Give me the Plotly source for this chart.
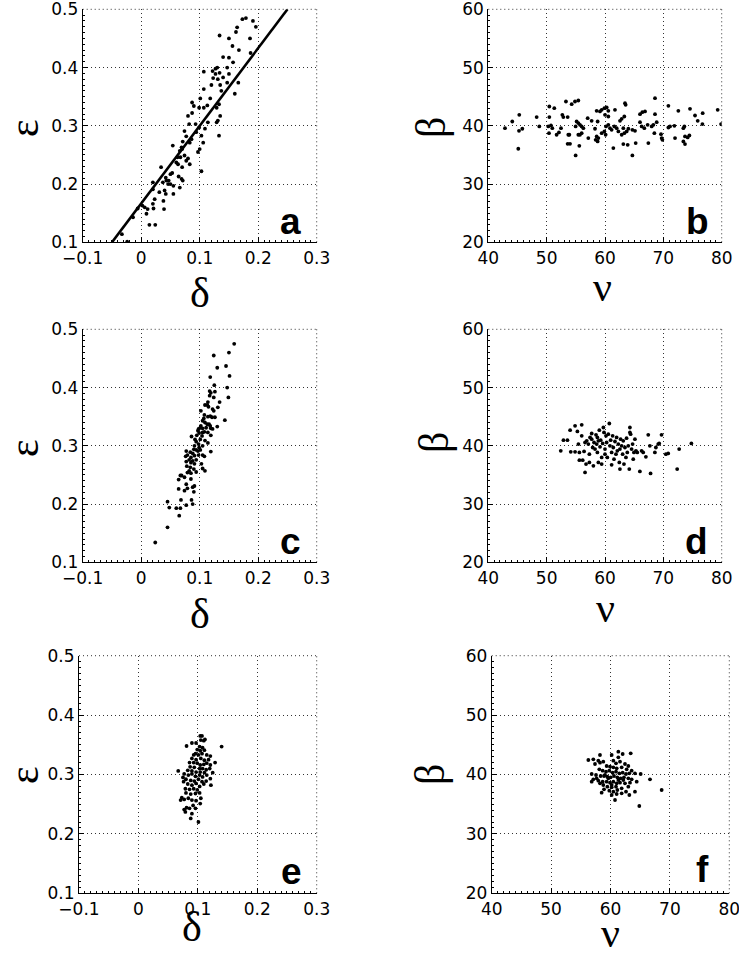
import plotly.graph_objects as go

# ---------------- data ----------------
# panel a
delta_a = [0.173,0.179,0.191,0.196,0.164,0.162,0.134,0.150,0.186,0.156,0.167,0.187,0.140,0.150,0.157,
           0.147,0.130,0.127,0.122,0.107,0.134,0.127,0.140,0.131,0.123,0.120,0.135,0.147,0.150,0.166,
           0.107,0.118,0.137,0.160,0.101,0.099,0.107,0.113,0.133,0.129,0.135,0.129,0.131,0.114,0.087,
           0.090,0.080,0.087,0.082,0.093,0.099,0.109,0.103,0.133,0.074,0.077,0.094,0.086,0.083,0.071,
           0.054,0.069,0.066,0.070,0.106,0.097,0.100,0.074,0.062,0.067,0.080,0.077,0.083,0.070,0.063,
           0.060,0.103,0.034,0.050,0.053,0.042,0.043,0.047,0.046,0.050,0.064,0.069,0.071,0.066,0.055,
           0.037,0.020,0.020,0.031,0.040,0.042,0.055,0.023,0.006,0.011,0.020,0.021,0.038,0.039,0.009,
           0.014,0.024,-0.014,-0.033,-0.024,0.002,-0.006]
eps_a = [0.483,0.485,0.480,0.470,0.469,0.461,0.455,0.450,0.450,0.437,0.430,0.425,0.418,0.417,0.409,
         0.400,0.400,0.398,0.394,0.393,0.391,0.389,0.383,0.380,0.382,0.370,0.370,0.374,0.389,0.374,
         0.363,0.347,0.360,0.355,0.347,0.331,0.331,0.335,0.337,0.331,0.317,0.306,0.309,0.306,0.340,
         0.334,0.317,0.322,0.303,0.303,0.297,0.295,0.283,0.283,0.291,0.282,0.289,0.277,0.271,0.273,
         0.266,0.263,0.257,0.260,0.271,0.255,0.260,0.249,0.246,0.246,0.244,0.240,0.234,0.229,0.234,
         0.237,0.222,0.229,0.217,0.219,0.211,0.206,0.206,0.200,0.200,0.213,0.209,0.206,0.194,0.197,
         0.203,0.203,0.191,0.186,0.189,0.183,0.183,0.174,0.160,0.157,0.166,0.158,0.171,0.157,0.149,
         0.130,0.130,0.143,0.114,0.101,0.163,0.158]
fit_delta = [-0.05, 0.25]
fit_eps = [0.10, 0.50]

# panel b
nu_b = [42.86,44.11,45.31,45.26,45.83,45.14,48.29,48.74,50.46,51.31,50.46,50.29,50.74,50.97,50.40,
        51.71,52.11,52.46,52.69,52.86,53.60,53.31,54.29,54.86,55.43,53.71,53.89,53.60,54.00,54.97,
        54.97,55.14,55.43,55.71,56.00,56.29,55.43,55.71,56.00,55.60,57.03,57.14,57.71,58.29,58.57,
        58.74,59.14,59.43,59.89,60.29,60.57,60.00,60.57,60.17,60.57,60.86,61.14,59.89,59.43,58.57,
        58.40,58.74,58.86,60.11,61.43,61.71,61.60,62.00,62.29,62.57,62.86,63.31,63.43,63.54,63.14,
        63.31,62.86,63.71,64.00,63.14,63.89,64.69,65.14,64.69,65.26,66.00,66.40,66.86,66.00,66.29,
        66.74,67.31,68.00,68.29,68.57,68.57,68.86,68.46,69.60,69.71,69.83,67.43,70.86,70.86,71.14,
        72.00,71.89,72.57,73.60,73.43,73.71,73.43,73.71,74.17,74.46,74.57,75.43,75.89,76.69,76.74,
        79.31,79.89]
beta_b = [39.60,40.74,41.89,39.14,39.49,36.06,41.49,39.89,43.31,43.03,41.49,39.89,40.06,39.60,38.74,
          38.46,38.86,39.60,41.89,41.49,41.49,44.17,43.71,44.17,44.34,38.46,38.46,36.91,36.91,34.91,
          39.89,40.74,40.46,40.17,39.89,39.60,38.46,38.46,38.74,36.57,41.31,37.89,40.86,39.49,42.57,
          40.74,42.46,42.74,43.03,43.14,42.57,41.89,41.60,39.89,40.17,39.60,39.31,39.03,38.74,38.17,
          37.60,37.31,37.89,38.46,36.17,42.74,39.89,39.60,39.03,40.86,41.20,41.60,43.89,43.60,39.60,
          38.74,38.46,39.03,39.49,36.86,36.74,39.31,39.14,34.91,37.03,42.00,42.34,42.46,40.63,39.89,
          39.60,40.17,39.89,40.17,44.74,42.00,40.63,38.74,38.57,37.89,37.60,37.03,43.43,39.71,39.89,
          37.89,40.00,42.57,39.89,39.60,38.17,37.31,36.86,38.00,38.34,42.91,41.77,40.86,40.29,42.17,
          42.74,40.29]

# panel c
delta_c = [0.159,0.150,0.124,0.145,0.130,0.151,0.118,0.125,0.147,0.149,0.117,0.119,0.126,0.117,0.124,
           0.134,0.114,0.109,0.113,0.115,0.122,0.131,0.102,0.124,0.108,0.114,0.118,0.107,0.121,0.126,
           0.143,0.105,0.109,0.113,0.118,0.116,0.102,0.101,0.105,0.098,0.111,0.119,0.122,0.130,0.108,
           0.097,0.099,0.105,0.114,0.095,0.104,0.119,0.086,0.092,0.101,0.109,0.114,0.094,0.098,0.091,
           0.099,0.105,0.090,0.094,0.097,0.101,0.119,0.077,0.084,0.088,0.079,0.076,0.085,0.091,0.098,
           0.105,0.108,0.082,0.088,0.094,0.077,0.085,0.091,0.103,0.078,0.084,0.082,0.090,0.094,0.105,
           0.109,0.079,0.085,0.069,0.074,0.064,0.067,0.085,0.091,0.077,0.088,0.079,0.064,0.074,0.090,
           0.068,0.086,0.045,0.048,0.060,0.067,0.077,0.088,0.065,0.045,0.024]
eps_c = [0.475,0.460,0.455,0.437,0.434,0.420,0.418,0.404,0.400,0.383,0.394,0.391,0.393,0.386,0.383,
         0.375,0.375,0.370,0.370,0.367,0.363,0.366,0.360,0.360,0.353,0.350,0.351,0.347,0.349,0.349,
         0.344,0.343,0.340,0.337,0.334,0.337,0.334,0.331,0.330,0.329,0.331,0.330,0.329,0.333,0.324,
         0.326,0.322,0.323,0.323,0.318,0.317,0.318,0.316,0.311,0.311,0.309,0.305,0.307,0.303,0.300,
         0.297,0.300,0.294,0.293,0.291,0.293,0.290,0.291,0.289,0.287,0.284,0.282,0.280,0.283,0.284,
         0.284,0.282,0.276,0.274,0.276,0.273,0.271,0.269,0.269,0.265,0.263,0.257,0.260,0.255,0.261,
         0.257,0.254,0.253,0.249,0.246,0.242,0.249,0.243,0.231,0.234,0.229,0.227,0.226,0.223,0.221,
         0.207,0.207,0.204,0.194,0.193,0.193,0.198,0.200,0.180,0.160,0.134]

# panel d
nu_d = [52.42,52.88,53.56,54.02,54.13,54.87,54.87,55.27,55.44,55.61,56.01,56.01,55.61,56.18,56.41,
        56.58,56.87,56.75,56.58,57.15,57.32,57.32,57.44,57.72,57.72,57.89,58.01,58.12,58.29,58.46,
        58.58,58.69,58.69,58.86,59.03,58.86,59.15,59.26,59.43,59.43,59.60,59.72,59.83,60.00,60.17,
        60.00,60.28,60.40,60.57,60.74,60.85,60.97,61.14,61.14,61.31,61.42,61.54,61.71,61.88,61.99,
        62.11,62.28,62.45,62.56,62.56,62.68,62.85,63.02,63.13,63.25,63.42,63.59,63.70,63.82,63.99,
        64.16,64.27,64.27,64.39,64.56,64.73,64.84,64.96,65.13,65.30,65.53,65.98,66.27,66.55,67.01,
        67.41,67.69,67.81,68.55,68.72,69.12,69.29,69.69,70.43,70.83,72.37,72.71,74.80]
beta_d = [39.14,40.97,40.97,42.69,38.97,38.97,43.43,42.46,40.29,38.86,43.60,41.71,37.54,37.54,39.03,
          40.57,40.86,36.86,35.43,40.29,38.57,37.14,41.43,42.11,41.14,39.71,36.57,40.57,39.43,41.89,
          40.29,41.43,38.86,40.86,42.69,37.14,39.83,40.97,38.00,36.86,40.40,43.14,42.29,39.43,41.71,
          38.57,40.57,38.00,42.00,43.83,40.00,40.97,38.86,36.74,41.71,39.71,37.71,40.74,38.57,41.43,
          39.14,40.29,37.14,36.00,39.43,41.14,40.00,38.57,40.86,36.86,39.71,38.00,41.31,38.86,40.00,
          36.00,43.14,42.29,42.00,39.43,40.29,37.71,38.86,41.14,39.14,38.86,35.60,39.14,38.86,38.11,
          41.89,40.00,35.26,38.86,39.71,40.29,40.40,41.89,38.57,38.69,36.00,39.43,40.40]

# panel e
delta_e = [0.104,0.107,0.105,0.110,0.112,0.097,0.090,0.081,0.140,0.103,0.108,0.099,0.104,0.111,0.096,
           0.093,0.101,0.107,0.115,0.121,0.090,0.097,0.105,0.111,0.118,0.129,0.086,0.093,0.099,0.104,
           0.110,0.115,0.121,0.087,0.094,0.103,0.108,0.114,0.120,0.083,0.090,0.097,0.104,0.111,0.125,
           0.067,0.077,0.084,0.090,0.096,0.103,0.108,0.115,0.121,0.075,0.080,0.088,0.094,0.101,0.107,
           0.114,0.122,0.076,0.083,0.090,0.097,0.103,0.110,0.079,0.086,0.093,0.099,0.080,0.088,0.096,
           0.103,0.073,0.077,0.084,0.090,0.097,0.105,0.071,0.092,0.081,0.077,0.086,0.096,0.079,0.090,
           0.088,0.101,0.104]
eps_e = [0.365,0.365,0.358,0.357,0.359,0.353,0.353,0.348,0.347,0.347,0.345,0.342,0.340,0.341,0.335,
         0.333,0.333,0.335,0.333,0.331,0.327,0.325,0.327,0.324,0.325,0.320,0.320,0.320,0.319,0.316,
         0.317,0.319,0.316,0.313,0.312,0.310,0.310,0.308,0.310,0.307,0.306,0.304,0.304,0.303,0.303,
         0.306,0.301,0.299,0.301,0.297,0.299,0.296,0.299,0.293,0.295,0.292,0.290,0.289,0.292,0.288,
         0.289,0.282,0.288,0.284,0.282,0.285,0.280,0.284,0.276,0.275,0.276,0.274,0.269,0.267,0.268,
         0.269,0.261,0.258,0.260,0.257,0.256,0.260,0.257,0.248,0.244,0.241,0.243,0.243,0.237,0.234,
         0.226,0.220,0.251]

# panel f
nu_f = [56.27,57.11,57.95,57.39,58.23,58.79,60.20,61.32,62.05,63.40,61.32,60.48,60.93,61.60,62.44,
        63.00,59.35,59.92,60.48,61.04,61.88,62.72,63.56,58.12,58.68,59.24,59.80,60.36,60.93,61.49,
        62.05,62.61,63.17,64.12,65.08,56.83,57.56,58.34,58.91,59.47,60.03,60.59,61.15,61.71,62.27,
        63.00,63.56,57.11,57.95,58.68,59.35,59.92,60.48,61.04,61.60,62.44,63.28,66.65,56.83,58.79,
        59.47,60.20,60.93,61.88,58.91,59.80,60.48,61.15,62.61,64.12,58.51,60.20,61.04,61.88,63.17,
        68.61,60.76,64.85,58.23,59.07,59.64,61.32,62.16,60.20,58.23,64.41,63.00,57.67]
beta_f = [42.44,42.55,42.33,41.77,41.99,42.16,43.28,43.84,43.45,43.56,42.89,42.33,41.88,42.16,41.77,
          41.43,41.43,41.32,41.21,41.04,41.21,40.87,40.65,40.87,40.65,40.48,40.65,40.31,40.48,40.20,
          40.31,40.08,40.20,40.20,40.08,40.08,39.92,39.75,39.75,39.64,39.52,39.75,39.52,39.35,39.52,
          39.35,39.19,39.19,38.96,38.79,38.79,38.63,38.79,38.51,38.63,38.51,38.63,39.19,38.79,38.23,
          37.95,37.84,37.95,37.67,37.50,37.28,37.11,37.39,37.11,37.11,36.94,36.55,36.72,36.83,36.55,
          37.39,35.71,34.70,43.28,39.92,39.35,39.07,39.07,38.23,38.51,38.79,37.95,39.35]

panel_letters = ["a", "b", "c", "d", "e", "f"]
delta_ticks = [-0.1, 0, 0.1, 0.2, 0.3]
delta_ticktext = ["\u22120.1", "0", "0.1", "0.2", "0.3"]
eps_ticks = [0.1, 0.2, 0.3, 0.4, 0.5]
nu_ticks = [40, 50, 60, 70, 80]
beta_ticks = [20, 30, 40, 50, 60]

# ---------------- figure ----------------
W, H = 739, 964
fig = go.Figure()

marker = dict(color="black", size=3.8)
series = [(delta_a, eps_a), (nu_b, beta_b), (delta_c, eps_c),
          (nu_d, beta_d), (delta_e, eps_e), (nu_f, beta_f)]
for i, (xs, ys) in enumerate(series):
    n = "" if i == 0 else str(i + 1)
    fig.add_trace(go.Scatter(x=xs, y=ys, mode="markers", marker=marker,
                             xaxis="x" + n, yaxis="y" + n, showlegend=False))
fig.add_trace(go.Scatter(x=fit_delta, y=fit_eps, mode="lines",
                         line=dict(color="black", width=2.6),
                         xaxis="x", yaxis="y", showlegend=False))

# domains (paper fractions) derived from pixel layout
xdom = [[82.7/W, 316.7/W], [488.3/W, 721.7/W], [82.7/W, 316.7/W],
        [488.3/W, 721.7/W], [79.0/W, 316.7/W], [491.7/W, 729.3/W]]
ydom_rows = [[1-242.3/H, 1-9.3/H], [1-562.3/H, 1-329.3/H], [1-893.3/H, 1-655.7/H]]

tickfont = dict(family="DejaVu Sans", size=17, color="black")
GRIDDASH = "1px,3px"
GRIDCOLOR = "rgba(0,0,0,0.8)"
grid = dict(showgrid=True, gridcolor=GRIDCOLOR, gridwidth=1, griddash=GRIDDASH,
            showline=True, linecolor="black", linewidth=1, ticks="inside", ticklen=5,
            tickcolor="black", zeroline=False, tickfont=tickfont, mirror=False,
            automargin=False, ticklabelstandoff=0, ticklabeloverflow="allow")

layout = {}
shapes = []
for i in range(6):
    n = "" if i == 0 else str(i + 1)
    left = (i % 2 == 0)
    row = i // 2
    if left:
        xa = dict(range=[-0.1, 0.3], tickvals=delta_ticks, ticktext=delta_ticktext,
                  minor=dict(dtick=0.01, ticks="inside", ticklen=2, tickcolor="black", showgrid=False))
        ya = dict(range=[0.1, 0.5], tickvals=eps_ticks, ticktext=["0.1", "0.2", "0.3", "0.4", "0.5"],
                  minor=dict(dtick=0.01, ticks="inside", ticklen=2, tickcolor="black", showgrid=False))
    else:
        xa = dict(range=[40, 80], tickvals=nu_ticks,
                  minor=dict(dtick=1, ticks="inside", ticklen=2, tickcolor="black", showgrid=False))
        ya = dict(range=[20, 60], tickvals=beta_ticks,
                  minor=dict(dtick=1, ticks="inside", ticklen=2, tickcolor="black", showgrid=False))
    xa.update(grid)
    ya.update(grid)
    xa.update(domain=xdom[i], anchor="y" + n)
    ya.update(domain=ydom_rows[row], anchor="x" + n)
    layout["xaxis" + n] = xa
    layout["yaxis" + n] = ya
    # dotted top and right frame edges (as the grid lines at the range ends)
    xr, yr = "x%s domain" % n, "y%s domain" % n
    shapes.append(dict(type="line", xref=xr, yref=yr, x0=0, x1=1, y0=1, y1=1,
                       line=dict(color=GRIDCOLOR, width=1, dash=GRIDDASH)))
    shapes.append(dict(type="line", xref=xr, yref=yr, x0=1, x1=1, y0=0, y1=1,
                       line=dict(color=GRIDCOLOR, width=1, dash=GRIDDASH)))

fig.update_layout(**layout)

# axis labels (Greek letters) as annotations
label_font = dict(family="Liberation Serif", size=42, color="black")
anns = []
ylab_pos = [(24, 128, "\u03b5"), (431, 128, "\u03b2"),
            (24, 448, "\u03b5"), (434, 443, "\u03b2"),
            (24, 775, "\u03b5"), (430, 775, "\u03b2")]
for x, y, t in ylab_pos:
    anns.append(dict(text=t, x=x/W, y=1-y/H, xref="paper", yref="paper", showarrow=False,
                     textangle=-90, font=label_font, xanchor="center", yanchor="middle"))
xlab_pos = [(200, 293, "\u03b4"), (602, 287, "\u03bd"),
            (200, 614, "\u03b4"), (605, 608, "\u03bd"),
            (192, 927, "\u03b4"), (610, 933, "\u03bd")]
for x, y, t in xlab_pos:
    anns.append(dict(text=t, x=x/W, y=1-y/H, xref="paper", yref="paper", showarrow=False,
                     font=label_font, xanchor="center", yanchor="middle"))

letter_x = [0.94, 0.955, 0.94, 0.95, 0.945, 0.925]
letter_y = [0.09, 0.09, 0.09, 0.09, 0.09, 0.10]
for i, t in enumerate(panel_letters):
    n = "" if i == 0 else str(i + 1)
    anns.append(dict(text="<b>%s</b>" % t, x=letter_x[i], y=letter_y[i],
                     xref="x%s domain" % n, yref="y%s domain" % n, showarrow=False,
                     xanchor="right", yanchor="middle",
                     font=dict(family="Liberation Sans", size=37, color="black")))

fig.update_layout(annotations=anns, shapes=shapes, width=W, height=H, template="none",
                  margin=dict(l=0, r=0, t=0, b=0),
                  paper_bgcolor="white", plot_bgcolor="white")

fig.write_html("out.html")
